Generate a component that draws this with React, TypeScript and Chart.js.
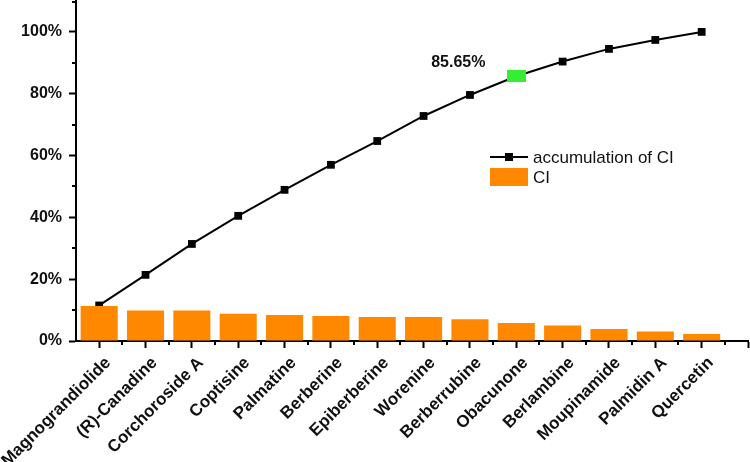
import React, { useEffect, useRef } from 'react';
import { Chart, registerables } from 'chart.js';

Chart.register(...registerables);

const categories = [
  'Magnograndiolide',
  '(R)-Canadine',
  'Corchoroside A',
  'Coptisine',
  'Palmatine',
  'Berberine',
  'Epiberberine',
  'Worenine',
  'Berberrubine',
  'Obacunone',
  'Berlambine',
  'Moupinamide',
  'Palmidin A',
  'Quercetin',
];
const ciValues = [11.3, 9.9, 9.9, 8.85, 8.4, 8.1, 7.8, 7.8, 7.0, 5.8, 5.0, 3.9, 3.1, 2.3];
const cumulativeValues = [11.5, 21.4, 31.4, 40.5, 48.9, 57.0, 64.7, 72.8, 79.6, 85.65, 90.4, 94.5, 97.4, 100];
const yTickValues = [0, 20, 40, 60, 80, 100];
const yMinorTickValues = [10, 30, 50, 70, 90, 110];
const highlightIndex = 9;
const lineLabel = 'accumulation of CI';
const barLabel = 'CI';

const FONT = '"Liberation Sans", Arial, sans-serif';
const BAR_COLOR = 'rgb(255,136,0)';
const GREEN = 'rgb(51,238,51)';

export default function App() {
  const canvasRef = useRef<HTMLCanvasElement | null>(null);

  useEffect(() => {
    if (!canvasRef.current) return;

    const green = document.createElement('canvas');
    green.width = 19;
    green.height = 12;
    const gctx = green.getContext('2d')!;
    gctx.fillStyle = GREEN;
    gctx.fillRect(0, 0, 19, 12);

    const customDraw = {
      id: 'customDraw',
      afterDraw(chart: any) {
        const ctx = chart.ctx;
        const xs = chart.scales.x;
        const ys = chart.scales.y;
        ctx.save();
        ctx.strokeStyle = '#000';
        ctx.lineWidth = 2;
        // minor ticks
        for (let i = 0; i < categories.length; i++) {
          const px = Math.round(xs.getPixelForValue(i + 0.5));
          ctx.beginPath();
          ctx.moveTo(px, ys.bottom);
          ctx.lineTo(px, ys.bottom + 4);
          ctx.stroke();
        }
        for (const v of yMinorTickValues) {
          const py = Math.round(ys.getPixelForValue(v)) + (v === 110 ? 1 : 0);
          ctx.beginPath();
          ctx.moveTo(xs.left, py);
          ctx.lineTo(xs.left - 4, py);
          ctx.stroke();
        }
        // highlight label
        const meta = chart.getDatasetMeta(0);
        const pt = meta.data[highlightIndex];
        if (pt) {
          ctx.fillStyle = '#111';
          ctx.font = `bold 16px ${FONT}`;
          ctx.textAlign = 'center';
          ctx.textBaseline = 'middle';
          ctx.fillText(`${cumulativeValues[highlightIndex].toFixed(2)}%`, pt.x - 58, pt.y - 14);
        }
        // legend
        const lx = 490;
        const ly = 157;
        ctx.strokeStyle = '#000';
        ctx.lineWidth = 2;
        ctx.beginPath();
        ctx.moveTo(lx, ly);
        ctx.lineTo(lx + 38, ly);
        ctx.stroke();
        ctx.fillStyle = '#000';
        ctx.fillRect(lx + 15, ly - 4, 8, 8);
        ctx.fillStyle = BAR_COLOR;
        ctx.fillRect(lx, 168, 38, 18);
        ctx.fillStyle = '#111';
        ctx.font = `17px ${FONT}`;
        ctx.textAlign = 'left';
        ctx.textBaseline = 'middle';
        ctx.fillText(lineLabel, lx + 43, ly + 1);
        ctx.fillText(barLabel, lx + 43, 178);
        ctx.restore();
      },
    };

    const chart = new Chart(canvasRef.current, {
      type: 'bar',
      data: {
        datasets: [
          {
            type: 'line',
            label: lineLabel,
            data: categories.map((_, i) => ({ x: i, y: cumulativeValues[i] })),
            borderColor: '#000',
            borderWidth: 2,
            backgroundColor: '#000',
            pointBackgroundColor: '#000',
            pointBorderWidth: 0,
            pointRadius: 5.5,
            pointStyle: (c: any) => (c.dataIndex === highlightIndex ? green : 'rect'),
            tension: 0,
            clip: false,
            order: 1,
          } as any,
          {
            type: 'bar',
            label: barLabel,
            data: categories.map((_, i) => ({ x: i, y: ciValues[i] })),
            backgroundColor: BAR_COLOR,
            borderWidth: 0,
            categoryPercentage: 0.8,
            barPercentage: 1,
            order: 0,
          } as any,
        ],
      },
      options: {
        responsive: false,
        animation: false,
        devicePixelRatio: 1,
        layout: { autoPadding: false, padding: { top: 1, right: 2, left: 0, bottom: 0 } },
        plugins: {
          legend: { display: false },
          tooltip: { enabled: false },
        },
        scales: {
          x: {
            type: 'linear',
            min: -0.5,
            max: categories.length,
            offset: false,
            afterBuildTicks: (axis: any) => {
              axis.ticks = [...categories.map((_, i) => ({ value: i })), { value: categories.length }];
            },
            afterFit: (s: any) => {
              s.height = 121;
              s.paddingLeft = 0;
              s.paddingRight = 0;
            },
            ticks: {
              callback: (v: any) => categories[v] ?? '',
              minRotation: 45,
              maxRotation: 45,
              autoSkip: false,
              color: '#111',
              padding: 5,
              labelOffset: 9,
              font: { family: FONT, size: 17, weight: 'bold' },
            },
            grid: {
              offset: false,
              drawOnChartArea: false,
              drawTicks: true,
              tickLength: 7,
              tickWidth: 2,
              tickColor: '#000',
            },
            border: { display: true, color: '#000', width: 2 },
          } as any,
          y: {
            type: 'linear',
            min: 0,
            max: 110,
            afterBuildTicks: (axis: any) => {
              axis.ticks = yTickValues.map((v) => ({ value: v }));
            },
            afterFit: (s: any) => {
              s.width = 76;
              s.paddingTop = 0;
              s.paddingBottom = 0;
            },
            ticks: {
              callback: (v: any) => `${v}%`,
              color: '#111',
              padding: 7,
              font: { family: FONT, size: 16, weight: 'bold' },
            },
            grid: {
              drawOnChartArea: false,
              drawTicks: true,
              tickLength: 7,
              tickWidth: 2,
              tickColor: '#000',
            },
            border: { display: true, color: '#000', width: 2 },
          } as any,
        },
      },
      plugins: [customDraw],
    });

    return () => chart.destroy();
  }, []);

  return (
    <div style={{ position: 'absolute', left: 0, top: 0, width: 750, height: 462, background: '#fff' }}>
      <canvas ref={canvasRef} width={750} height={462} />
    </div>
  );
}
